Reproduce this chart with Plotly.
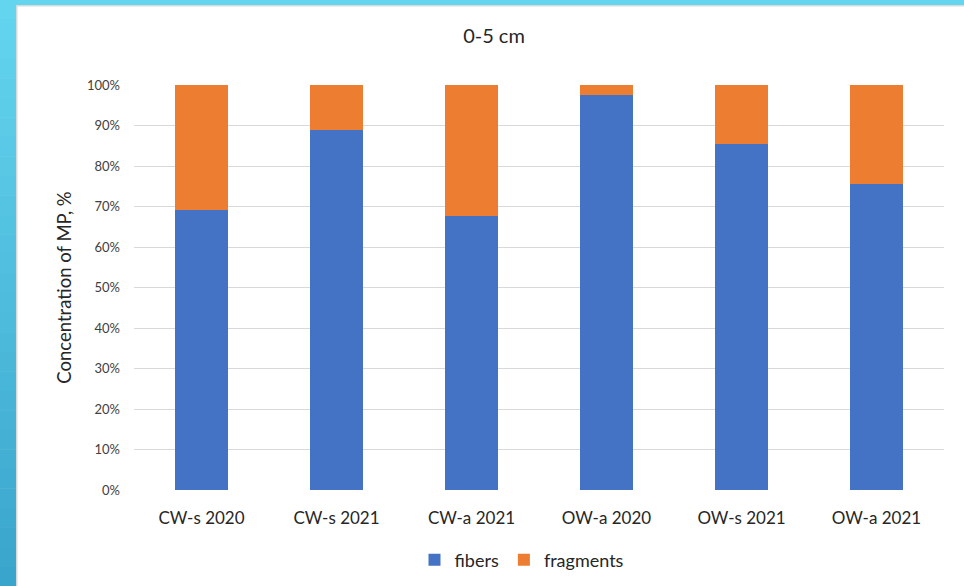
import plotly.graph_objects as go

categories = ["CW-s 2020", "CW-s 2021", "CW-a 2021", "OW-a 2020", "OW-s 2021", "OW-a 2021"]
fibers = [69.1, 88.9, 67.7, 97.5, 85.4, 75.5]
fragments = [30.9, 11.1, 32.3, 2.5, 14.6, 24.5]
y_ticks = [0, 10, 20, 30, 40, 50, 60, 70, 80, 90, 100]
y_tick_labels = [f"{v}%" for v in y_ticks]

W, H = 964, 586
L, R, T, B = 134, 944, 85, 490
PW, PH = R - L, B - T

def px(x):
    return (x - L) / PW

def py(y):
    return (B - y) / PH

fig = go.Figure()
fig.add_trace(go.Bar(name="fibers", x=categories, y=fibers, marker_color="#4472c4",
                     marker_line_width=0))
fig.add_trace(go.Bar(name="fragments", x=categories, y=fragments, marker_color="#ed7d31",
                     marker_line_width=0))

shapes = []
top_c = (0x63, 0xd5, 0xef)
bot_c = (0x3a, 0xa5, 0xcc)
n = 30
for i in range(n):
    y0 = H * i / n
    y1 = H * (i + 1) / n + 0.5
    t = i / (n - 1)
    c = tuple(round(top_c[k] + (bot_c[k] - top_c[k]) * t) for k in range(3))
    shapes.append(dict(type="rect", xref="paper", yref="paper", x0=px(0), x1=px(16),
                       y0=py(y1), y1=py(y0), fillcolor="rgb(%d,%d,%d)" % c, line_width=0, layer="below"))
shapes.append(dict(type="rect", xref="paper", yref="paper", x0=px(0), x1=px(W),
                   y0=py(5), y1=py(0), fillcolor="#64d5ef", line_width=0, layer="below"))
shapes.append(dict(type="rect", xref="paper", yref="paper", x0=px(16), x1=px(17.5),
                   y0=py(H), y1=py(5), fillcolor="#d9d9d9", line_width=0, layer="below"))
shapes.append(dict(type="rect", xref="paper", yref="paper", x0=px(16), x1=px(W),
                   y0=py(6.5), y1=py(5), fillcolor="#d9d9d9", line_width=0, layer="below"))

fig.update_layout(
    width=W, height=H,
    margin=dict(l=L, r=W - R, t=T, b=H - B, autoexpand=False),
    paper_bgcolor="white", plot_bgcolor="white",
    barmode="stack", bargap=0.61,
    font=dict(family="Lato, Open Sans, sans-serif", color="#404040"),
    title=dict(text="0-5 cm", xref="paper", x=px(494), xanchor="center",
               yref="container", y=1 - 36 / H, yanchor="middle",
               font=dict(size=20, color="#262626")),
    xaxis=dict(showgrid=False, showline=False, ticks="", ticklabelstandoff=16,
               tickfont=dict(size=17, color="#262626")),
    yaxis=dict(range=[0, 100], tickvals=y_ticks, ticktext=y_tick_labels, showgrid=True,
               gridcolor="#d9d9d9", gridwidth=1, zeroline=False, showline=False, ticks="",
               tickfont=dict(size=13, color="#404040"), ticklabelstandoff=13,
               title=dict(text="Concentration of MP, %", font=dict(size=18.5, color="#262626"), standoff=10)),
    legend=dict(orientation="h", x=px(522), xanchor="center", y=py(560), yanchor="middle",
                font=dict(size=18, color="#262626"), traceorder="normal", itemwidth=30),
    shapes=shapes,
)

fig.write_html("out.html")
